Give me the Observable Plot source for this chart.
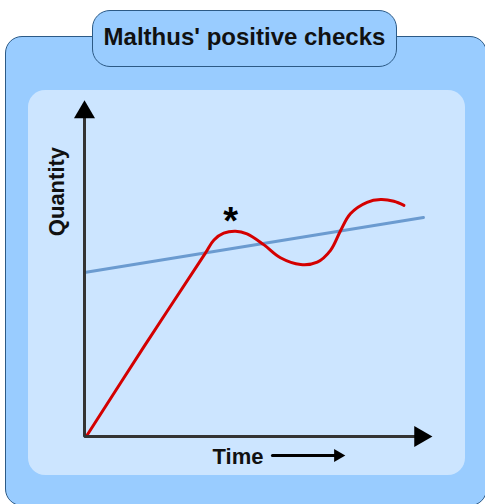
<!DOCTYPE html>
<html>
<head>
<meta charset="utf-8">
<script src="https://cdn.jsdelivr.net/npm/d3@7"></script>
<script src="https://cdn.jsdelivr.net/npm/@observablehq/plot@0.6"></script>
<style>
  html, body { margin: 0; padding: 0; background: #ffffff; overflow: hidden; }
  #wrap { position: relative; width: 485px; height: 504px; overflow: hidden; font-family: "Liberation Sans", Arial, sans-serif; }
  #outer { position: absolute; left: 5px; top: 36px; width: 482px; height: 470px; box-sizing: border-box;
           background: #99ccff; border: 1.5px solid #2c5a86; border-radius: 17px; }
  #inner { position: absolute; left: 28px; top: 90px; width: 437px; height: 385px;
           background: #cce5ff; border-radius: 17px; }
  #title { position: absolute; left: 92px; top: 10px; width: 305px; height: 57px; box-sizing: border-box;
           background: #99ccff; border: 1.5px solid #2c5a86; border-radius: 18px;
           display: flex; align-items: center; justify-content: center; padding-bottom: 3px;
           font-weight: bold; font-size: 24px; color: #111; white-space: nowrap; }
  #chart { position: absolute; left: 0; top: 0; }
</style>
</head>
<body>
<div id="wrap">
  <div id="outer"></div>
  <div id="inner"></div>
  <div id="title">Malthus' positive checks</div>
  <div id="chart"></div>
</div>
<script>
// Food supply / population curve (red): Time vs Quantity
const redTime     = [0.05, 1.70, 3.45, 3.72, 4.00, 4.34, 4.67, 5.15, 5.63, 6.21, 6.69, 7.07, 7.36, 7.64, 8.12, 8.51, 8.89, 9.18];
const redQuantity = [0.00, 2.66, 5.42, 5.85, 6.05, 6.11, 6.03, 5.71, 5.32, 5.12, 5.19, 5.54, 6.13, 6.63, 6.97, 7.05, 7.00, 6.88];
// Linear growth (blue)
const blueTime     = [0, 9.74];
const blueQuantity = [4.88, 6.52];
// Labels
const yLabel = "Quantity";
const xLabel = "Time";
const markLabel = "*";
const markTime = 4.2, markQuantity = 6.40;
const axisMax = 10;

const red = redTime.map((t, i) => ({t, q: redQuantity[i]}));
const blue = blueTime.map((t, i) => ({t, q: blueQuantity[i]}));
const axisPath = [{t: 0, q: 9.6}, {t: 0, q: 0}, {t: 9.6, q: 0}];
const timeArrow = [{t: 5.40, q: -0.565}, {t: 7.24, q: -0.565}];

const chart = Plot.plot({
  width: 485,
  height: 504,
  marginLeft: 84,
  marginRight: 53,
  marginTop: 100,
  marginBottom: 68,
  x: {domain: [0, axisMax], axis: null},
  y: {domain: [0, axisMax], axis: null},
  style: {background: "transparent", overflow: "visible", fontFamily: "'Liberation Sans', Arial, sans-serif"},
  marks: [
    Plot.line(blue, {x: "t", y: "q", stroke: "#6b9bd0", strokeWidth: 3}),
    Plot.line(red, {x: "t", y: "q", stroke: "#d40000", strokeWidth: 3, curve: "catmull-rom"}),
    Plot.line(axisPath, {x: "t", y: "q", stroke: "#333333", strokeWidth: 3, strokeLinejoin: "miter", strokeLinecap: "butt"}),
    Plot.dot([0], {x: 0, y: 9.65, symbol: "triangle", r: 7.8, fill: "#000", stroke: null}),
    Plot.dot([0], {x: 9.65, y: 0, symbol: "triangle", r: 7.8, rotate: 90, fill: "#000", stroke: null}),
    Plot.line(timeArrow, {x: "t", y: "q", stroke: "#000", strokeWidth: 3}),
    Plot.dot([0], {x: 7.28, y: -0.565, symbol: "triangle", r: 4.8, rotate: 90, fill: "#000", stroke: null}),
    Plot.text([xLabel], {x: 3.68, y: -0.595, text: d => d, textAnchor: "start", fontSize: 22, fontWeight: "bold", fill: "#111"}),
    Plot.text([yLabel], {x: -0.80, y: 7.29, text: d => d, rotate: -90, fontSize: 22, fontWeight: "bold", fill: "#111"}),
    Plot.text([markLabel], {x: markTime, y: markQuantity, text: d => d, fontSize: 38, fontWeight: "bold", fill: "#000"})
  ]
});
chart.setAttribute("style", (chart.getAttribute("style") || "") + ";background:transparent;overflow:visible;");
document.getElementById("chart").appendChild(chart);
</script>
</body>
</html>
